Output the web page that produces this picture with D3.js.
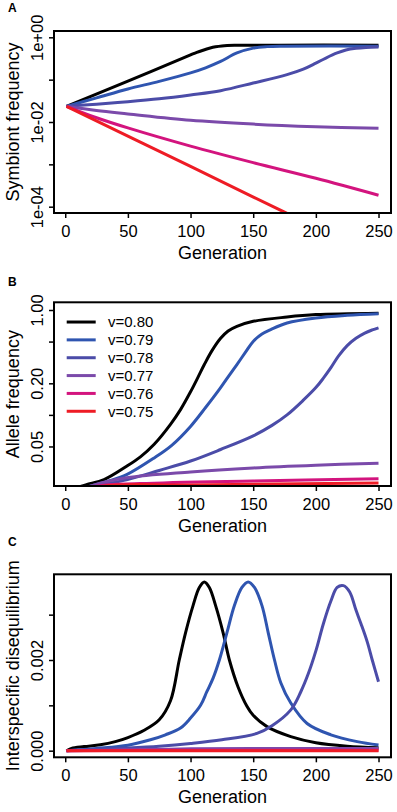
<!DOCTYPE html>
<html>
<head>
<meta charset="utf-8">
<script src="https://cdn.jsdelivr.net/npm/d3@7"></script>
<style>
body{margin:0;background:#fff;}
svg{display:block;font-family:"Liberation Sans",Arial,Helvetica,sans-serif;}
</style>
</head>
<body>
<div class="canvas_area"></div>
<script>
// ---- DATA ----
const seriesNames = ["v=0.80", "v=0.79", "v=0.78", "v=0.77", "v=0.76", "v=0.75"];
const seriesColors = ["#000000", "#2f55b0", "#4b4ca8", "#7b4aaa", "#d3147e", "#ee1c25"];
const generationTicks = [0, 50, 100, 150, 200, 250];

// panel A: symbiont frequency, [generation, log10(frequency)]
const symbiont080 = [[1,-1.63],[50,-1.035],[100,-0.415],[105,-0.355],[110,-0.305],[115,-0.26],[120,-0.225],[125,-0.205],[135,-0.19],[170,-0.185],[250,-0.185]];
const symbiont079 = [[1,-1.63],[25,-1.43],[50,-1.22],[75,-1.04],[100,-0.84],[112,-0.72],[124,-0.57],[137,-0.37],[150,-0.255],[161,-0.22],[175,-0.21],[250,-0.21]];
const symbiont078 = [[1,-1.63],[25,-1.58],[50,-1.52],[75,-1.45],[100,-1.36],[124,-1.26],[150,-1.08],[177,-0.88],[190,-0.75],[200,-0.61],[208,-0.49],[217,-0.37],[224,-0.30],[232,-0.26],[240,-0.24],[250,-0.23]];
const symbiont077 = [[1,-1.63],[25,-1.73],[50,-1.81],[100,-1.96],[150,-2.05],[200,-2.11],[250,-2.15]];
const symbiont076 = [[1,-1.63],[25,-1.90],[50,-2.14],[100,-2.57],[150,-2.96],[200,-3.33],[250,-3.73]];
const symbiont075 = [[1,-1.63],[100,-3.05],[175,-4.13],[250,-5.2]];
const symbiontTicks = [1, 0.1, 0.01, 0.001, 0.0001];
const symbiontLabels = ["1e+00", "", "1e-02", "", "1e-04"];

// panel B: allele frequency, [generation, log10(frequency)]
const allele080 = [[1,-1.76],[13,-1.68],[31,-1.617],[49,-1.49],[60,-1.40],[71,-1.28],[84,-1.09],[92,-0.95],[100,-0.78],[106,-0.64],[111,-0.52],[117,-0.39],[124,-0.27],[130,-0.2],[137,-0.156],[150,-0.108],[177,-0.067],[200,-0.044],[250,-0.03]];
const allele079 = [[1,-1.78],[20,-1.68],[35,-1.63],[49,-1.57],[71,-1.41],[85,-1.29],[100,-1.11],[112,-0.93],[124,-0.74],[131,-0.62],[137,-0.52],[144,-0.40],[150,-0.30],[157,-0.23],[164,-0.187],[177,-0.124],[200,-0.076],[225,-0.05],[250,-0.035]];
const allele078 = [[1,-1.78],[25,-1.68],[49,-1.62],[75,-1.53],[100,-1.44],[124,-1.33],[150,-1.20],[165,-1.10],[177,-1.00],[190,-0.86],[200,-0.74],[206,-0.65],[212,-0.55],[218,-0.44],[225,-0.34],[232,-0.27],[239,-0.22],[245,-0.19],[250,-0.17]];
const allele077 = [[1,-1.78],[20,-1.68],[49,-1.60],[100,-1.544],[150,-1.506],[200,-1.48],[250,-1.46]];
const allele076 = [[1,-1.78],[25,-1.68],[60,-1.655],[150,-1.63],[250,-1.61]];
const allele075 = [[1,-1.78],[30,-1.68],[100,-1.668],[250,-1.65]];
const alleleTicks = [1, 0.5, 0.2, 0.1, 0.05];
const alleleLabels = ["1.00", "", "0.20", "", "0.05"];

// panel C: interspecific disequilibrium, [generation, value]
const diseq080 = [[1,0],[5,0.00005],[15,0.00009],[28,0.00013],[40,0.0002],[50,0.00029],[63,0.00045],[75,0.00068],[84,0.0011],[91,0.002],[96,0.0026],[102,0.0032],[107,0.0036],[111,0.00372],[115,0.0036],[120,0.0032],[126,0.0026],[131,0.002],[138,0.0014],[145,0.00098],[150,0.00078],[161,0.00053],[180,0.00031],[200,0.000176],[225,0.0001],[250,0.000066]];
const diseq079 = [[1,0],[25,0.00005],[50,0.00012],[68,0.00024],[80,0.00035],[92,0.0005],[100,0.00072],[108,0.001],[113,0.0013],[118,0.0016],[123,0.002],[129,0.0026],[135,0.0032],[141,0.0036],[146,0.00372],[151,0.0036],[157,0.0032],[162,0.0026],[167,0.002],[172,0.0015],[180,0.00105],[193,0.0006],[212,0.00035],[233,0.0002],[250,0.000125]];
const diseq078 = [[1,0],[25,0.00003],[50,0.00006],[75,0.0001],[100,0.00016],[125,0.00024],[153,0.00038],[165,0.00055],[180,0.0009],[188,0.0013],[194,0.0017],[200,0.0022],[206,0.0028],[212,0.0033],[217,0.0036],[222,0.00364],[227,0.0035],[232,0.0031],[236,0.0028],[241,0.0024],[245,0.002],[250,0.00152]];
const diseq077 = [[1,0],[50,0.00002],[100,0.00004],[150,0.00005],[200,0.00005],[250,0.00005]];
const diseq076 = [[1,0],[100,0.00001],[250,0.00001]];
const diseq075 = [[1,0],[250,0]];
const diseqTicks = [0, 0.001, 0.002, 0.003];
const diseqLabels = ["0.000", "", "0.002", ""];

// ---- LAYOUT ----
const svgwidth = 397, svgheight = 812;
const left = 54, right = 391;

const svg = d3.select(".canvas_area").append("svg")
    .attr("width", svgwidth)
    .attr("height", svgheight);

const X = d3.scaleLinear().domain([-8.96, 259.96]).range([left, right]);

const fromLog = arr => arr.map(d => [d[0], Math.pow(10, d[1])]);

const panels = [
    {
        letter: "A", letterY: 12, top: 31, bottom: 213,
        Y: d3.scaleLog().domain([Math.pow(10, -4.149), Math.pow(10, 0.149)]),
        ticks: symbiontTicks, labels: symbiontLabels,
        title: "Symbiont frequency",
        lines: [symbiont080, symbiont079, symbiont078, symbiont077, symbiont076, symbiont075].map(fromLog)
    },
    {
        letter: "B", letterY: 286, top: 302.3, bottom: 486,
        Y: d3.scaleLog().domain([Math.pow(10, -1.678), Math.pow(10, 0.0734)]),
        ticks: alleleTicks, labels: alleleLabels,
        title: "Allele frequency",
        lines: [allele080, allele079, allele078, allele077, allele076, allele075].map(fromLog),
        legend: true
    },
    {
        letter: "C", letterY: 546, top: 574.3, bottom: 757.3,
        Y: d3.scaleLinear().domain([-0.000146, 0.00389]),
        ticks: diseqTicks, labels: diseqLabels,
        title: "Interspecific disequilibrium",
        lines: [diseq080, diseq079, diseq078, diseq077, diseq076, diseq075]
    }
];

panels.forEach((p, pi) => {
    p.Y.range([p.bottom, p.top]);
    const g = svg.append("g").classed("panel", true);

    // clip lines to plot region like R does
    const clipId = "clip" + pi;
    svg.append("clipPath").attr("id", clipId)
        .append("rect")
        .attr("x", left).attr("y", p.top)
        .attr("width", right - left).attr("height", p.bottom - p.top);

    const line = d3.line()
        .x(d => X(d[0]))
        .y(d => p.Y(d[1]))
        .curve(d3.curveCatmullRom.alpha(0.5));

    g.append("g").attr("clip-path", `url(#${clipId})`)
        .selectAll("path")
        .data(p.lines)
        .enter().append("path")
        .attr("d", line)
        .style("fill", "none")
        .style("stroke", (d, i) => seriesColors[i])
        .style("stroke-width", 3)
        .style("stroke-linejoin", "round");

    // box
    g.append("rect")
        .attr("x", left).attr("y", p.top)
        .attr("width", right - left).attr("height", p.bottom - p.top)
        .style("fill", "none").style("stroke", "#000").style("stroke-width", 2);

    // x axis
    const xAxis = g.append("g").attr("transform", `translate(0, ${p.bottom})`)
        .call(d3.axisBottom(X).tickValues(generationTicks).tickSize(5).tickPadding(7).tickSizeOuter(0));
    // y axis
    const yAxis = g.append("g").attr("transform", `translate(${left}, 0)`)
        .call(d3.axisLeft(p.Y).tickValues(p.ticks).tickSize(5).tickSizeOuter(0)
            .tickFormat((d, i) => p.labels[i]));
    yAxis.selectAll("text")
        .attr("transform", "rotate(-90)")
        .attr("x", 0).attr("y", -11).attr("dy", 0)
        .attr("text-anchor", "middle");

    [xAxis, yAxis].forEach(a => {
        a.select(".domain").remove();
        a.selectAll("line").style("stroke", "#000").style("stroke-width", 1.5);
        a.selectAll("text").style("font-size", "16.5px").style("fill", "#000")
            .style("font-family", '"Liberation Sans",Arial,sans-serif');
    });

    // titles
    g.append("text")
        .attr("x", (left + right) / 2).attr("y", p.bottom + 46)
        .attr("text-anchor", "middle")
        .style("font-size", "18px")
        .text("Generation");
    g.append("text")
        .attr("transform", `translate(19, ${(p.top + p.bottom) / 2}) rotate(-90)`)
        .attr("text-anchor", "middle")
        .style("font-size", "18px")
        .text(p.title);
    g.append("text")
        .attr("x", 8).attr("y", p.letterY)
        .style("font-size", "12px").style("font-weight", "bold")
        .text(p.letter);

    // legend
    if (p.legend) {
        const rowY = d3.scaleBand().domain(seriesNames).range([313.1, 420.2]);
        const items = g.append("g").selectAll(".legend-items")
            .data(seriesNames).enter().append("g").classed("legend-items", true)
            .attr("transform", d => `translate(0, ${rowY(d) + rowY.bandwidth() / 2})`);
        items.append("line")
            .attr("x1", 66.7).attr("x2", 95.7)
            .style("stroke", (d, i) => seriesColors[i])
            .style("stroke-width", 3);
        items.append("text")
            .attr("x", 108).attr("dy", "0.36em")
            .style("font-size", "15px")
            .text(d => d);
    }
});
</script>
</body>
</html>
